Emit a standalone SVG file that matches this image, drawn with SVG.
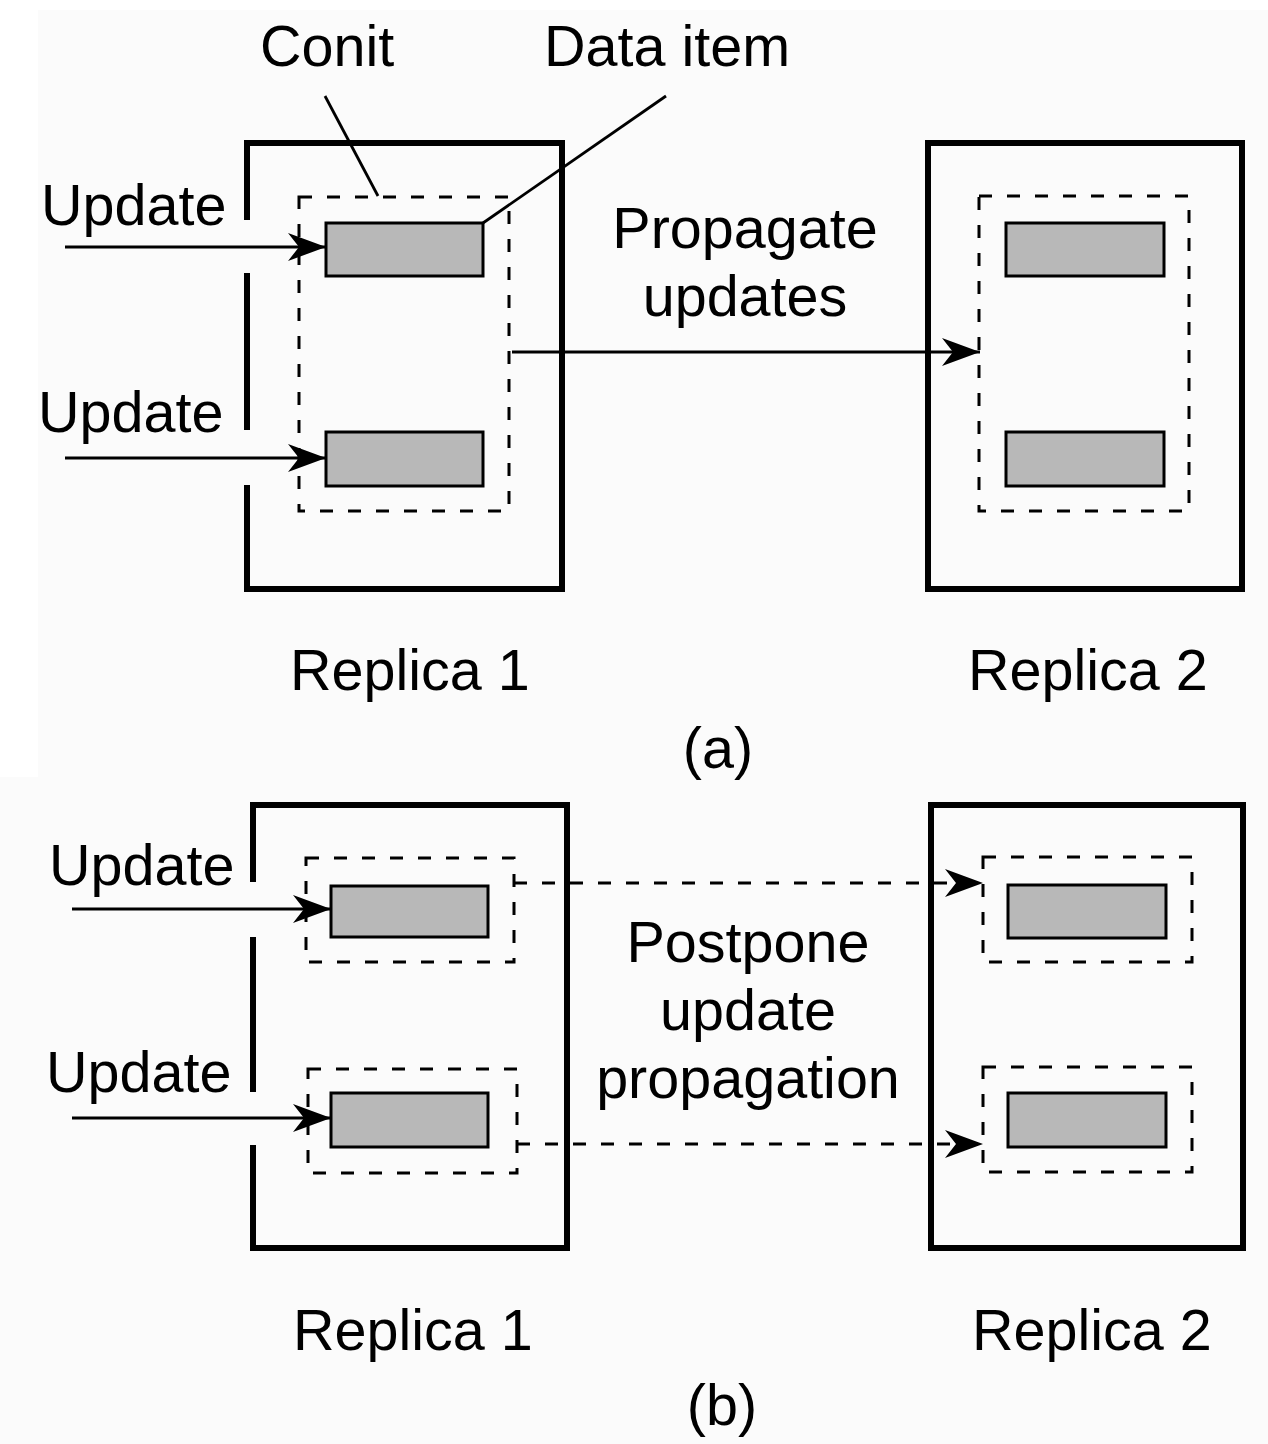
<svg xmlns="http://www.w3.org/2000/svg" width="1268" height="1444" viewBox="0 0 1268 1444">
<defs>
<style>
.bg{fill:#fbfbfb}
.box{fill:none;stroke:#000;stroke-width:6;stroke-linejoin:miter}
.conit{fill:none;stroke:#000;stroke-width:3;stroke-dasharray:13 15}
.item{fill:#b8b8b8;stroke:#000;stroke-width:3}
.line{fill:none;stroke:#000;stroke-width:2.8}
.dline{fill:none;stroke:#000;stroke-width:3;stroke-dasharray:13 15}
.lbl{font-family:"Liberation Sans",Arial,Helvetica,sans-serif;font-size:57.5px;fill:#000}
.mid{text-anchor:middle}
</style>
<marker id="ah" viewBox="0 0 38 30" refX="38" refY="15" markerWidth="38" markerHeight="30" markerUnits="userSpaceOnUse" orient="auto">
<path d="M0,1 L38,15 L0,29 L11,15 Z" fill="#000"/>
</marker>
</defs>
<rect class="bg" x="0" y="0" width="1268" height="1444"/>
<rect x="0" y="0" width="1268" height="10" fill="#ffffff"/>
<rect x="0" y="0" width="38" height="777" fill="#ffffff"/>

<!-- (a) -->
<g id="a-replica1">
<path class="box" d="M247,220 V143 H562 V589 H247 V485 M247,430 V273"/>
<rect class="conit" x="299" y="197" width="210" height="314"/>
<rect class="item" x="326" y="223" width="157" height="53"/>
<rect class="item" x="326" y="432" width="157" height="54"/>
<text class="lbl" x="290" y="690">Replica 1</text>
</g>
<g id="a-replica2">
<path class="box" d="M928,143 H1242 V589 H928 Z"/>
<rect class="conit" x="979" y="196" width="210" height="315"/>
<rect class="item" x="1006" y="223" width="158" height="53"/>
<rect class="item" x="1006" y="432" width="158" height="54"/>
<text class="lbl" x="968" y="690">Replica 2</text>
</g>
<g id="a-labels">
<text class="lbl" x="41" y="225">Update</text>
<text class="lbl" x="38" y="432">Update</text>
<text class="lbl" x="260" y="66">Conit</text>
<text class="lbl" x="544" y="66">Data item</text>
<text class="lbl mid" x="745" y="248">Propagate</text>
<text class="lbl mid" x="745" y="316">updates</text>
<text class="lbl mid" x="718" y="768">(a)</text>
</g>
<g id="a-connectors">
<line class="line" x1="65" y1="247" x2="326" y2="247" marker-end="url(#ah)"/>
<line class="line" x1="65" y1="458" x2="326" y2="458" marker-end="url(#ah)"/>
<line class="line" x1="512" y1="352" x2="980" y2="352" marker-end="url(#ah)"/>
<line class="line" x1="325" y1="96" x2="378" y2="196"/>
<line class="line" x1="666" y1="96" x2="483" y2="223"/>
</g>

<!-- (b) -->
<g id="b-replica1">
<path class="box" d="M253,882 V805 H567 V1248 H253 V1145 M253,1092 V937"/>
<rect class="conit" x="306" y="858" width="208" height="104"/>
<rect class="item" x="331" y="886" width="157" height="51"/>
<rect class="conit" x="308" y="1069" width="209" height="104"/>
<rect class="item" x="331" y="1093" width="157" height="54"/>
<text class="lbl" x="293" y="1350">Replica 1</text>
</g>
<g id="b-replica2">
<path class="box" d="M931,805 H1243 V1248 H931 Z"/>
<rect class="conit" x="983" y="857" width="209" height="105"/>
<rect class="item" x="1008" y="885" width="158" height="53"/>
<rect class="conit" x="983" y="1067" width="209" height="105"/>
<rect class="item" x="1008" y="1093" width="158" height="54"/>
<text class="lbl" x="972" y="1350">Replica 2</text>
</g>
<g id="b-labels">
<text class="lbl" x="49" y="885">Update</text>
<text class="lbl" x="46" y="1092">Update</text>
<text class="lbl mid" x="748" y="962">Postpone</text>
<text class="lbl mid" x="748" y="1030">update</text>
<text class="lbl mid" x="748" y="1098">propagation</text>
<text class="lbl mid" x="722" y="1425">(b)</text>
</g>
<g id="b-connectors">
<line class="line" x1="72" y1="909" x2="331" y2="909" marker-end="url(#ah)"/>
<line class="line" x1="72" y1="1118" x2="331" y2="1118" marker-end="url(#ah)"/>
<line class="dline" x1="514" y1="883" x2="983" y2="883" marker-end="url(#ah)"/>
<line class="dline" x1="517" y1="1144" x2="983" y2="1144" marker-end="url(#ah)"/>
</g>
</svg>
